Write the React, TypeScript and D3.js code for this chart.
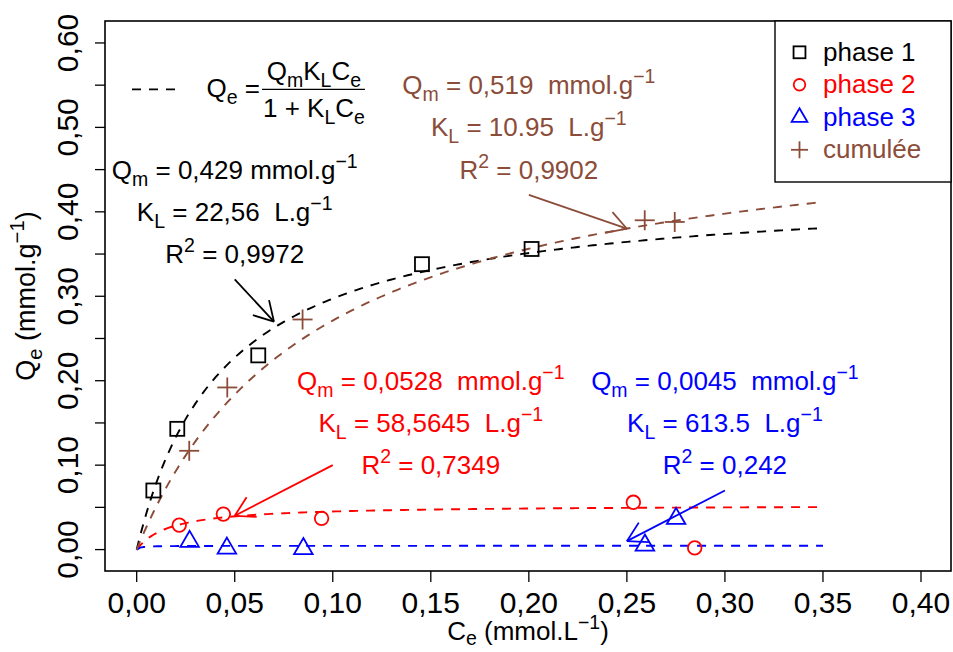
import React from "react";
import * as d3 from "d3";

// ---------- data ----------
const phase1C = [0.0085, 0.0207, 0.062, 0.1455, 0.2014];
const phase1Q = [0.070, 0.143, 0.230, 0.338, 0.356];
const phase2C = [0.0217, 0.0442, 0.0943, 0.2533, 0.2846];
const phase2Q = [0.029, 0.042, 0.037, 0.056, 0.002];
const phase3C = [0.027, 0.046, 0.085, 0.2592, 0.2751];
const phase3Q = [0.0095, 0.0015, 0.001, 0.0052, 0.0367];
const cumC = [0.0268, 0.0462, 0.0846, 0.2591, 0.2744];
const cumQ = [0.117, 0.192, 0.2725, 0.390, 0.388];

const seriesNames = ["phase 1", "phase 2", "phase 3", "cumulée"];
const fitQm = [0.429, 0.0528, 0.0045, 0.519];
const fitKL = [22.56, 58.5645, 613.5, 10.95];
const fitCmax = 0.35;

const xTicks = [0, 0.05, 0.1, 0.15, 0.2, 0.25, 0.3, 0.35, 0.4];
const xTickLabels = ["0,00", "0,05", "0,10", "0,15", "0,20", "0,25", "0,30", "0,35", "0,40"];
const yTicks = [0, 0.05, 0.1, 0.15, 0.2, 0.25, 0.3, 0.35, 0.4, 0.45, 0.5, 0.55, 0.6];
const yTickLabels = ["0,00", "", "0,10", "", "0,20", "", "0,30", "", "0,40", "", "0,50", "", "0,60"];

// annotation texts: [Qm text, KL text, R2 text]
const annQm = ["0,429 mmol.g", "0,0528  mmol.g", "0,0045  mmol.g", "0,519  mmol.g"];
const annKL = ["22,56  L.g", "58,5645  L.g", "613.5  L.g", "10.95  L.g"];
const annR2 = ["0,9972", "0,7349", "0,242", "0,9902"];
// annotation anchors (data units): center x, y of first line
const annX = [0.05, 0.15, 0.30, 0.20];
const annY = [0.45, 0.20, 0.20, 0.55];
// arrows (data units)
const arrowFromC = [0.05, 0.10, 0.30, 0.20];
const arrowFromQ = [0.32, 0.10, 0.07, 0.42];
const arrowToC = [0.07, 0.05, 0.25, 0.25];
const arrowToQ = [0.27, 0.04, 0.01, 0.38];

// ---------- layout ----------
const W = 953, H = 652;
const BOX = { l: 105, r: 951, t: 21, b: 571 };
const COLORS = ["#000000", "#FF0000", "#0000FF", "#8B4C39"];
const FONT = "'Liberation Sans', Arial, Helvetica, sans-serif";

const x = d3.scaleLinear().domain([-0.01616, 0.4153]).range([BOX.l, BOX.r]);
const y = d3.scaleLinear().domain([-0.02536, 0.626]).range([BOX.b, BOX.t]);

type Seg = { t: string; s?: "sub" | "sup" };

function Rich(props: {
  x: number; y: number; segs: Seg[]; size: number; fill: string;
  anchor?: string; transform?: string; subShift?: number;
}) {
  const { segs, size, fill } = props;
  const subK = props.subShift ?? 0.27;
  let cur = 0;
  const kids = segs.map((sg, i) => {
    const target = sg.s === "sub" ? size * subK : sg.s === "sup" ? -size * 0.42 : 0;
    const dy = target - cur;
    cur = target;
    return (
      <tspan key={i} dy={dy} fontSize={sg.s ? size * 0.75 : size}>
        {sg.t}
      </tspan>
    );
  });
  return (
    <text
      x={props.x}
      y={props.y}
      fill={fill}
      fontSize={size}
      fontFamily={FONT}
      textAnchor={props.anchor || "middle"}
      transform={props.transform}
      style={{ whiteSpace: "pre" }}
    >
      {kids}
    </text>
  );
}

function Marker({ kind, cx, cy, color, scale = 1 }: { kind: number; cx: number; cy: number; color: string; scale?: number }) {
  const sw = 1.8;
  if (kind === 0) {
    const s = 14 * scale;
    return <rect x={cx - s / 2} y={cy - s / 2} width={s} height={s} fill="none" stroke={color} strokeWidth={sw} />;
  }
  if (kind === 1) {
    return <circle cx={cx} cy={cy} r={6.8 * scale} fill="none" stroke={color} strokeWidth={sw} />;
  }
  if (kind === 2) {
    const r = 10.7 * scale;
    const xc = r * 0.866;
    const pts = [[cx, cy - r], [cx + xc, cy + r / 2], [cx - xc, cy + r / 2]];
    return <polygon points={pts.map((p) => p.join(",")).join(" ")} fill="none" stroke={color} strokeWidth={sw} />;
  }
  const a = 10 * scale;
  return (
    <g stroke={color} strokeWidth={sw}>
      <line x1={cx - a} y1={cy} x2={cx + a} y2={cy} />
      <line x1={cx} y1={cy - a} x2={cx} y2={cy + a} />
    </g>
  );
}

function Arrow({ x1, y1, x2, y2, color }: { x1: number; y1: number; x2: number; y2: number; color: string }) {
  const ang = Math.atan2(y2 - y1, x2 - x1);
  const L = 22;
  const a1 = ang + Math.PI - Math.PI / 6;
  const a2 = ang + Math.PI + Math.PI / 6;
  return (
    <g stroke={color} strokeWidth={1.8} fill="none">
      <line x1={x1} y1={y1} x2={x2} y2={y2} />
      <line x1={x2} y1={y2} x2={x2 + L * Math.cos(a1)} y2={y2 + L * Math.sin(a1)} />
      <line x1={x2} y1={y2} x2={x2 + L * Math.cos(a2)} y2={y2 + L * Math.sin(a2)} />
    </g>
  );
}

export default function App() {
  const pointsC = [phase1C, phase2C, phase3C, cumC];
  const pointsQ = [phase1Q, phase2Q, phase3Q, cumQ];
  const samples = d3.range(0, 201).map((i) => (i / 200) * fitCmax);
  const line = d3
    .line<[number, number]>()
    .x((d) => x(d[0]))
    .y((d) => y(d[1]));

  const fs = 26;
  const lineGap = 0.05; // data units between annotation lines

  const barY = y(0.545);
  const fracCx = x(0.0904);

  return (
    <svg width={W} height={H} style={{ position: "absolute", left: 0, top: 0, display: "block" }} fontFamily={FONT}>
      <rect x={0} y={0} width={W} height={H} fill="#fff" />

      {/* fitted curves */}
      {fitQm.map((qm, i) => (
        <path
          key={"c" + i}
          d={line(samples.map((c) => [c, (qm * fitKL[i] * c) / (1 + fitKL[i] * c)] as [number, number])) || ""}
          fill="none"
          stroke={COLORS[i]}
          strokeWidth={1.9}
          strokeDasharray="9,8"
        />
      ))}

      {/* points */}
      {pointsC.map((cs, i) =>
        cs.map((c, j) => <Marker key={"p" + i + "-" + j} kind={i} cx={x(c)} cy={y(pointsQ[i][j])} color={COLORS[i]} />)
      )}

      {/* arrows */}
      {arrowFromC.map((c, i) => (
        <Arrow key={"a" + i} x1={x(c)} y1={y(arrowFromQ[i])} x2={x(arrowToC[i])} y2={y(arrowToQ[i])} color={COLORS[i]} />
      ))}

      {/* annotations */}
      {annX.map((c, i) => {
        const cx = x(c);
        const off = 9;
        return (
          <g key={"t" + i}>
            <Rich x={cx} y={y(annY[i]) + off} size={fs} fill={COLORS[i]}
              segs={[{ t: "Q" }, { t: "m", s: "sub" }, { t: " = " + annQm[i] }, { t: "−1", s: "sup" }]} />
            <Rich x={cx} y={y(annY[i] - lineGap) + off} size={fs} fill={COLORS[i]}
              segs={[{ t: "K" }, { t: "L", s: "sub" }, { t: " = " + annKL[i] }, { t: "−1", s: "sup" }]} />
            <Rich x={cx} y={y(annY[i] - 2 * lineGap) + off} size={fs} fill={COLORS[i]}
              segs={[{ t: "R" }, { t: "2", s: "sup" }, { t: " = " + annR2[i] }]} />
          </g>
        );
      })}

      {/* formula */}
      <line x1={132} x2={182} y1={barY} y2={barY} stroke="#000" strokeWidth={1.9} strokeDasharray="9,8" />
      <Rich x={fracCx - 54} y={barY + 8} size={fs} fill="#000" anchor="end"
        segs={[{ t: "Q" }, { t: "e", s: "sub" }, { t: " =" }]} />
      <line x1={fracCx - 52} x2={fracCx + 51} y1={barY} y2={barY} stroke="#000" strokeWidth={1.3} />
      <Rich x={fracCx} y={barY - 9} size={fs} fill="#000"
        segs={[{ t: "Q" }, { t: "m", s: "sub" }, { t: "K" }, { t: "L", s: "sub" }, { t: "C" }, { t: "e", s: "sub" }]} />
      <Rich x={fracCx} y={barY + 28} size={fs} fill="#000"
        segs={[{ t: "1 + K" }, { t: "L", s: "sub" }, { t: "C" }, { t: "e", s: "sub" }]} />

      {/* plot box */}
      <rect x={BOX.l} y={BOX.t} width={BOX.r - BOX.l} height={BOX.b - BOX.t} fill="none" stroke="#000" strokeWidth={1.6} />

      {/* x axis */}
      {xTicks.map((t, i) => (
        <g key={"xt" + i}>
          <line x1={x(t)} x2={x(t)} y1={BOX.b} y2={BOX.b + 11} stroke="#000" strokeWidth={1.3} />
          <text x={x(t)} y={612.5} fontSize={30} textAnchor="middle" fontFamily={FONT} fill="#000">
            {xTickLabels[i]}
          </text>
        </g>
      ))}
      <Rich x={(BOX.l + BOX.r) / 2} y={640} size={26} fill="#000" subShift={0.2}
        segs={[{ t: "C" }, { t: "e", s: "sub" }, { t: " (mmol.L" }, { t: "−1", s: "sup" }, { t: ")" }]} />

      {/* y axis */}
      {yTicks.map((t, i) => (
        <g key={"yt" + i}>
          <line x1={BOX.l} x2={BOX.l - 10} y1={y(t)} y2={y(t)} stroke="#000" strokeWidth={1.3} />
          {yTickLabels[i] && (
            <text transform={`translate(78, ${y(t)}) rotate(-90)`} fontSize={30} textAnchor="middle" fontFamily={FONT} fill="#000">
              {yTickLabels[i]}
            </text>
          )}
        </g>
      ))}
      <Rich x={0} y={0} transform={`translate(35, ${(BOX.t + BOX.b) / 2}) rotate(-90)`} size={27} fill="#000"
        segs={[{ t: "Q" }, { t: "e", s: "sub" }, { t: " (mmol.g" }, { t: "−1", s: "sup" }, { t: ")" }]} />

      {/* legend */}
      <rect x={775} y={BOX.t} width={BOX.r - 775} height={182 - BOX.t} fill="#fff" stroke="#000" strokeWidth={1.4} />
      {seriesNames.map((n, i) => {
        const cy = 52.3 + i * 32.5;
        return (
          <g key={"lg" + i}>
            <Marker kind={i} cx={799.5} cy={cy} color={COLORS[i]} scale={0.85} />
            <text x={823} y={cy + 8.5} fontSize={26} fontFamily={FONT} fill={COLORS[i]}>
              {n}
            </text>
          </g>
        );
      })}
    </svg>
  );
}
